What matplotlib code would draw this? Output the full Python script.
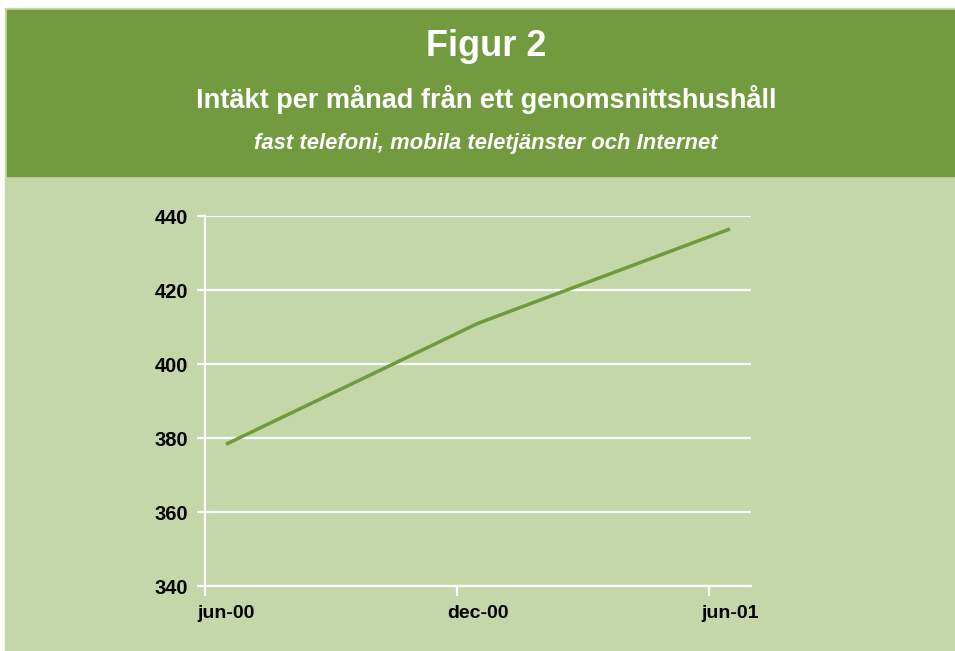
import matplotlib.pyplot as plt
from matplotlib.patches import Rectangle

# ----------------------
# DATA
# ----------------------
month_idx = [0, 6, 12]                 # months since jun-00
income = [378.3, 411.0, 436.5]         # kr per month
tick_labels = ["jun-00", "dec-00", "jun-01"]
y_ticks = [340, 360, 380, 400, 420, 440]

title = "Figur 2"
subtitle = "Intäkt per månad från ett genomsnittshushåll"
subsubtitle = "fast telefoni, mobila teletjänster och Internet"

# ----------------------
# STYLE
# ----------------------
DARK_GREEN = "#729b3f"
LIGHT_GREEN = "#c3d7a8"
LINE_GREEN = "#6f9a3d"
W, H = 955, 651
HEAD_FONT = ["Liberation Sans", "DejaVu Sans"]

fig = plt.figure(figsize=(W / 100, H / 100), dpi=100)
fig.patch.set_facecolor("white")

# page background + header band (pixel coords -> figure fractions)
def px_rect(x0, y0, x1, y1, color):
    fig.patches.append(Rectangle((x0 / W, 1 - y1 / H), (x1 - x0) / W, (y1 - y0) / H,
                                 transform=fig.transFigure, color=color, zorder=-5))

px_rect(5, 8, W, H, LIGHT_GREEN)
px_rect(7, 10, W, 176, DARK_GREEN)

cx = 486 / W
fig.text(cx, 1 - 46 / H, title, ha="center", va="center", color="white",
         fontsize=26, fontweight="bold", family=HEAD_FONT)
fig.text(cx, 1 - 100 / H, subtitle, ha="center", va="center", color="white",
         fontsize=19.5, fontweight="bold", family=HEAD_FONT)
fig.text(cx, 1 - 143 / H, subsubtitle, ha="center", va="center", color="white",
         fontsize=15.8, fontweight="bold", style="italic", family=HEAD_FONT)

# ----------------------
# AXES
# ----------------------
ax = fig.add_axes([205 / W, 1 - 586 / H, 546 / W, 370 / H])
ax.set_zorder(2)
ax.patch.set_alpha(0)
ax.plot(month_idx, income, color=LINE_GREEN, lw=2.5, solid_capstyle="butt", zorder=3)

ax.set_xlim(-0.5, 12.5)
ax.set_ylim(340, 440)
ax.set_yticks(y_ticks)
ax.set_yticklabels([str(v) for v in y_ticks])

# tick marks between month groups, labels centred on the data months
ax.set_xticks([-0.5, 5.5, 11.5])
ax.set_xticklabels([])
ax.set_xticks(month_idx, minor=True)
ax.set_xticklabels(tick_labels, minor=True)

ax.grid(axis="y", color="white", lw=1.6, zorder=1)
for side in ["top", "right"]:
    ax.spines[side].set_visible(False)
for side in ["left", "bottom"]:
    ax.spines[side].set_color("white")
    ax.spines[side].set_linewidth(1.6)

ax.tick_params(axis="y", which="major", direction="out", length=6, width=1.6,
               color="white", pad=6, labelsize=14.5, labelcolor="black")
ax.tick_params(axis="x", which="major", direction="out", length=7, width=1.6,
               color="white")
ax.tick_params(axis="x", which="minor", length=0, pad=14, labelsize=14,
               labelcolor="black")
for lab in ax.get_yticklabels() + ax.get_xticklabels(minor=True):
    lab.set_fontweight("bold")
    lab.set_family(["Liberation Sans", "DejaVu Sans"])

fig.savefig("out.png", dpi=100)
